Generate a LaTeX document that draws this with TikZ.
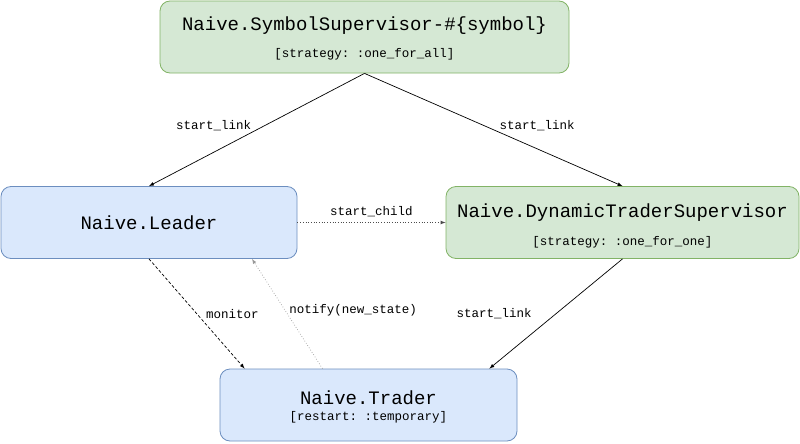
\documentclass[tikz,border=0pt]{standalone}
\usepackage{fontspec}
\setmainfont{Liberation Mono}
\usetikzlibrary{positioning}
\frenchspacing

\definecolor{supfill}{HTML}{D5E8D4}
\definecolor{supline}{HTML}{82B366}
\definecolor{workfill}{HTML}{DAE8FC}
\definecolor{workline}{HTML}{6C8EBF}

\begin{document}
\begin{tikzpicture}[
        x=1pt, y=-1pt, % pixel grid of the picture
        supbox/.style={draw=supline, fill=supfill, rounded corners=10pt, line width=0.8pt, minimum height=72pt},
        workbox/.style={draw=workline, fill=workfill, rounded corners=10pt, line width=0.8pt, minimum height=72pt},
        title/.style={anchor=base, inner sep=0pt, font=\fontsize{19}{22}\selectfont},
        sub/.style={anchor=base, inner sep=0pt, font=\fontsize{12.5}{15}\selectfont},
        kant/.style={inner sep=2pt, font=\fontsize{12.5}{15}\selectfont}, % edge labels
        link/.style={draw, -latex, line width=0.7pt},
    ]
    \useasboundingbox (0,0) rectangle (800,444);

    % boxes
    \node[supbox, minimum width=409pt] (sup) at (364.5,37) {};
    \node[workbox, minimum width=296pt] (leader) at (149,222.5) {};
    \node[supbox, minimum width=353pt] (dts) at (622.5,222.5) {};
    \node[workbox, minimum width=297pt] (trader) at (368.5,405) {};

    % texts
    \node[title] (sup-t) at (364.5,31) {Naive.SymbolSupervisor-\#\{symbol\}};
    \node[sub] (sup-s) at (364.5,57) {[strategy: :one\_for\_all]};
    \node[title] (leader-t) at (149,229) {Naive.Leader};
    \node[title] (dts-t) at (622.5,217) {Naive.DynamicTraderSupervisor};
    \node[sub] (dts-s) at (622.5,245) {[strategy: :one\_for\_one]};
    \node[title] (trader-t) at (368.5,404) {Naive.Trader};
    \node[sub] (trader-s) at (368.5,420) {[restart: :temporary]};

    % connectors
    \path[link] (sup.south) -- (leader.north) node[kant, pos=0.46, left=12pt] {start\_link};
    \path[link] (sup.south) -- (dts.north) node[kant, pos=0.46, right=14pt] {start\_link};
    \path[link, dotted, draw=black!70] (leader.east) -- (dts.west) node[kant, pos=0.5, above=3pt] {start\_child};
    \path[link, dashed, dash pattern=on 3pt off 2pt] (leader.south) -- ([xshift=25pt]trader.north west) node[kant, pos=0.5, right=7pt] {monitor};
    \path[link, dotted, draw=black!40] ([xshift=-46pt]trader.north) -- ([xshift=103pt]leader.south) node[kant, pos=0.53, right=2pt] {notify(new\_state)};
    \path[link] (dts.south) -- ([xshift=-28pt]trader.north east) node[kant, pos=0.5, left=22pt] {start\_link};
\end{tikzpicture}
\end{document}
